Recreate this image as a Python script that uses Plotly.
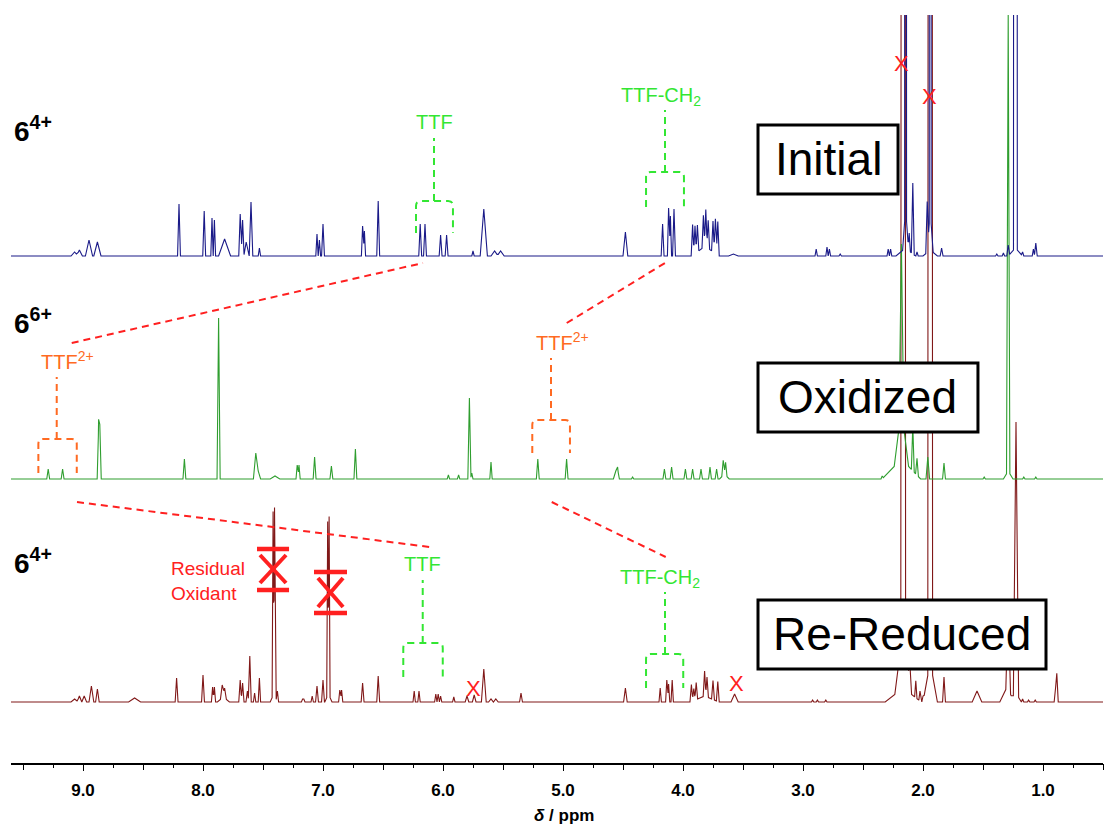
import plotly.graph_objects as go

# ---------------- data ----------------
ppm_range = [9.6, 0.5]
tick_ppm = [9.0, 8.0, 7.0, 6.0, 5.0, 4.0, 3.0, 2.0, 1.0]
tick_labels = ["9.0", "8.0", "7.0", "6.0", "5.0", "4.0", "3.0", "2.0", "1.0"]
half_tick_ppm = [9.5, 8.5, 7.5, 6.5, 5.5, 4.5, 3.5, 2.5, 1.5, 0.5]

# peaks: (ppm, height, half-width in ppm)
initial_peaks = [
    (9.07, 4, 0.03), (9.03, 6, 0.025), (8.95, 16, 0.03), (8.88, 14, 0.03),
    (8.20, 52, 0.012), (7.99, 45, 0.012), (7.925, 38, 0.010), (7.905, 36, 0.010),
    (7.82, 17, 0.05), (7.69, 42, 0.012), (7.67, 36, 0.012), (7.64, 14, 0.02),
    (7.60, 54, 0.015), (7.53, 8, 0.010),
    (7.05, 22, 0.010), (7.03, 16, 0.010), (7.00, 32, 0.012),
    (6.67, 30, 0.010), (6.655, 25, 0.010), (6.54, 55, 0.012),
    (6.19, 32, 0.012), (6.15, 32, 0.012), (6.02, 21, 0.012), (5.97, 21, 0.012),
    (5.75, 5, 0.010), (5.66, 47, 0.03), (5.57, 5, 0.03), (5.52, 5, 0.03),
    (4.48, 24, 0.02),
    (4.17, 32, 0.012), (4.12, 48, 0.010), (4.105, 40, 0.010), (4.075, 47, 0.012),
    (3.815, 10, 0.11),
    (3.92, 31, 0.012), (3.90, 28, 0.012), (3.88, 27, 0.012), (3.83, 32, 0.012), (3.81, 37, 0.012),
    (3.79, 28, 0.012), (3.75, 31, 0.012), (3.73, 35, 0.012), (3.71, 34, 0.012),
    (3.58, 2, 0.04),
    (2.89, 7, 0.010), (2.80, 9, 0.010), (2.78, 7, 0.010), (2.69, 2, 0.010), (2.29, 7, 0.010), (2.27, 7, 0.010),
    (2.145, 6000, 0.008), (2.145, 40, 0.025), (2.145, 8, 0.08),
    (2.115, 18, 0.010), (2.085, 71, 0.012), (2.05, 4, 0.010),
    (1.965, 51, 0.012), (1.94, 6000, 0.008), (1.94, 40, 0.025), (1.94, 6, 0.06),
    (1.845, 8, 0.012),
    (1.385, 2, 0.010), (1.33, 3, 0.010), (1.29, 11, 0.012), (1.23, 6000, 0.016), (1.23, 8, 0.06),
    (1.17, 4, 0.010), (1.08, 7, 0.010), (1.06, 13, 0.012),
]

oxidized_peaks = [
    (9.29, 10, 0.012), (9.17, 10, 0.012), (8.87, 52, 0.012), (8.86, 46, 0.012),
    (8.155, 20, 0.012), (7.87, 161, 0.013), (7.56, 26, 0.02), (7.54, 8, 0.02), (7.40, 3, 0.04),
    (7.215, 14, 0.010), (7.20, 14, 0.010), (7.07, 22, 0.012), (6.93, 13, 0.012), (6.73, 30, 0.012),
    (5.955, 4, 0.010), (5.87, 4, 0.010), (5.78, 81, 0.013), (5.76, 6, 0.010), (5.60, 17, 0.010),
    (5.21, 20, 0.012), (4.97, 20, 0.012),
    (4.56, 8, 0.02), (4.545, 10, 0.015), (4.42, 2, 0.010),
    (4.155, 10, 0.012), (4.095, 12, 0.012),
    (3.98, 10, 0.012), (3.92, 10, 0.012), (3.85, 10, 0.012),
    (3.775, 12, 0.012), (3.72, 10, 0.012), (3.665, 15, 0.012), (3.645, 13, 0.012), (3.655, 5, 0.04),
    (2.34, 3, 0.010),
    (2.18, 165, 0.02), (2.18, 50, 0.06), (2.18, 20, 0.16),
    (2.085, 45, 0.012), (2.05, 17, 0.012), (1.96, 22, 0.015), (1.825, 16, 0.012),
    (1.49, 2, 0.010), (1.29, 456, 0.014), (1.29, 8, 0.04), (1.16, 2, 0.010), (1.06, 2, 0.010),
]

rereduced_peaks = [
    (9.07, 3, 0.03), (9.03, 6, 0.02), (8.99, 6, 0.02), (8.93, 16, 0.02), (8.88, 13, 0.015),
    (8.57, 4, 0.05),
    (8.22, 24, 0.012), (8.00, 27, 0.012), (7.92, 15, 0.010), (7.905, 15, 0.010),
    (7.84, 13, 0.015), (7.82, 10, 0.015), (7.83, 5, 0.05),
    (7.69, 22, 0.012), (7.67, 19, 0.012), (7.63, 11, 0.012), (7.61, 46, 0.012), (7.57, 9, 0.010), (7.53, 24, 0.010),
    (7.416, 184, 0.008), (7.404, 188, 0.008), (7.41, 8, 0.03),
    (7.38, 11, 0.010),
    (7.17, 3, 0.010), (7.16, 3, 0.010), (7.09, 6, 0.010), (7.05, 16, 0.012), (7.00, 22, 0.012),
    (6.961, 174, 0.008), (6.949, 179, 0.008), (6.955, 8, 0.03),
    (6.86, 12, 0.010), (6.845, 12, 0.010), (6.67, 19, 0.012), (6.54, 26, 0.012),
    (6.24, 11, 0.010), (6.20, 11, 0.010), (6.06, 8, 0.010), (6.04, 8, 0.010), (6.02, 6, 0.010), (5.91, 5, 0.010),
    (5.80, 6, 0.015), (5.74, 7, 0.015), (5.66, 33, 0.02), (5.60, 3, 0.02), (5.56, 3, 0.02), (5.35, 9, 0.012),
    (4.48, 14, 0.015), (4.19, 14, 0.010), (4.135, 22, 0.010), (4.12, 18, 0.010), (4.09, 22, 0.010),
    (3.82, 6, 0.12),
    (3.93, 17, 0.012), (3.91, 12, 0.012), (3.89, 17, 0.012), (3.82, 25, 0.012), (3.80, 20, 0.012),
    (3.75, 19, 0.012), (3.71, 20, 0.012),
    (3.57, 8, 0.03),
    (2.92, 2, 0.010), (2.88, 2, 0.010), (2.81, 2, 0.010),
    (2.165, 6000, 0.02), (2.165, 60, 0.07), (2.165, 14, 0.15),
    (2.11, 18, 0.010), (2.06, 17, 0.010), (2.025, 10, 0.010), (2.0, 6, 0.010),
    (1.94, 6000, 0.02), (1.94, 40, 0.06),
    (1.825, 25, 0.012), (1.55, 11, 0.04),
    (1.29, 80, 0.02), (1.30, 15, 0.06), (1.225, 270, 0.022), (1.225, 10, 0.04),
    (1.17, 3, 0.010), (1.12, 2, 0.010), (1.065, 2, 0.010), (0.885, 27, 0.012), (0.895, 10, 0.012),
]

spectra_names = ["Re-Reduced", "Oxidized", "Initial"]
spectra_peaks = [rereduced_peaks, oxidized_peaks, initial_peaks]

# ---------------- styling / layout ----------------
BASE = {"Initial": 507, "Oxidized": 284, "Re-Reduced": 61}
COLORS = {"Initial": "#1a1a88", "Oxidized": "#2f9e2f", "Re-Reduced": "#801818"}
GREEN = "#33e633"
ORANGE = "#ff6a22"
RED = "#ff2020"
FONT = "Arial, Liberation Sans, sans-serif"


def build(peaks, lo=0.5, hi=9.6):
    xs = {lo, hi}
    for c, h, w in peaks:
        xs.update((c - w, c, c + w))
    xs = sorted((x for x in xs if lo <= x <= hi), reverse=True)
    ys = [sum(max(0.0, h * (1 - abs(x - c) / w)) for c, h, w in peaks) for x in xs]
    return xs, ys


fig = go.Figure()
for name, peaks in zip(spectra_names, spectra_peaks):
    xs, ys = build(peaks)
    fig.add_trace(go.Scatter(x=xs, y=[y + BASE[name] for y in ys], mode="lines", name=name,
                             line=dict(color=COLORS[name], width=1.1), hoverinfo="skip",
                             showlegend=False))
# carrier for the half-ppm tick axis
fig.add_trace(go.Scatter(x=ppm_range, y=[None, None], xaxis="x2", mode="lines",
                         showlegend=False, hoverinfo="skip"))

shapes = []
DASH = "7px,5px"


def bracket(x1, x2, xs, ytop, ybot, ystem, color):
    rx, ry = 0.04, 5
    path = (f"M {x1},{ybot} L {x1},{ytop - ry} Q {x1},{ytop} {x1 - rx},{ytop} "
            f"L {x2 + rx},{ytop} Q {x2},{ytop} {x2},{ytop - ry} L {x2},{ybot}")
    shapes.append(dict(type="path", path=path, xref="x", yref="y", layer="above",
                       line=dict(color=color, width=2, dash=DASH)))
    shapes.append(dict(type="line", x0=xs, x1=xs, y0=ytop, y1=ystem, xref="x", yref="y", layer="above",
                       line=dict(color=color, width=2, dash=DASH)))


bracket(6.225, 5.917, 6.075, 562, 530, 625, GREEN)
bracket(4.308, 3.992, 4.15, 591, 556, 653, GREEN)
bracket(9.372, 9.052, 9.219, 324, 290, 386, ORANGE)
bracket(5.256, 4.942, 5.10, 343, 310, 405, ORANGE)
bracket(6.331, 6.002, 6.169, 120, 86, 183, GREEN)
bracket(4.308, 3.998, 4.15, 109, 75, 171, GREEN)

for (xa, ya, xb, yb) in [(9.094, 420, 6.167, 500), (4.969, 440, 4.15, 500),
                         (9.05, 261, 6.114, 216), (5.094, 261, 4.144, 206)]:
    shapes.append(dict(type="line", x0=xa, y0=ya, x1=xb, y1=yb, xref="x", yref="y", layer="above",
                       line=dict(color=RED, width=2, dash=DASH)))

# residual oxidant crossed markers
for (bx0, bx1, xa, xb, yt, yb, xt, xbm) in [(7.55, 7.283, 7.525, 7.308, 214, 173, 208, 180),
                                            (7.075, 6.80, 7.042, 6.833, 191, 150, 185, 156)]:
    for yy in (yt, yb):
        shapes.append(dict(type="line", x0=bx0, x1=bx1, y0=yy, y1=yy, xref="x", yref="y", layer="above",
                           line=dict(color=RED, width=4.5)))
    shapes.append(dict(type="line", x0=xa, x1=xb, y0=xt, y1=xbm, xref="x", yref="y", layer="above",
                       line=dict(color=RED, width=4)))
    shapes.append(dict(type="line", x0=xb, x1=xa, y0=xt, y1=xbm, xref="x", yref="y", layer="above",
                       line=dict(color=RED, width=4)))

# label boxes
boxes = {"Initial": (3.375, 2.208, 638, 569), "Oxidized": (3.375, 1.542, 400, 331),
         "Re-Reduced": (3.375, 0.975, 163, 94)}
for name, (x0, x1, y0, y1) in boxes.items():
    shapes.append(dict(type="rect", x0=x0, x1=x1, y0=y0, y1=y1, xref="x", yref="y", layer="above",
                       fillcolor="white", line=dict(color="black", width=3)))

ann = []
for name, (x0, x1, y0, y1) in boxes.items():
    ann.append(dict(x=(x0 + x1) / 2, y=(y0 + y1) / 2 + 1, text=name,
                    font=dict(family=FONT, size=46, color="black")))

for txt, yy in [("6<sup>4+</sup>", 634), ("6<sup>6+</sup>", 442), ("6<sup>4+</sup>", 202)]:
    ann.append(dict(x=9.592, y=yy, text=f"<b>{txt}</b>", xanchor="left",
                    font=dict(family=FONT, size=28, color="black")))

ann += [
    dict(x=6.075, y=641, text="TTF", font=dict(family=FONT, size=20, color=GREEN)),
    dict(x=4.183, y=667, text="TTF-CH<sub>2</sub>", font=dict(family=FONT, size=20, color=GREEN)),
    dict(x=6.167, y=199, text="TTF", font=dict(family=FONT, size=20, color=GREEN)),
    dict(x=4.192, y=185, text="TTF-CH<sub>2</sub>", font=dict(family=FONT, size=20, color=GREEN)),
    dict(x=9.367, y=403, text="TTF<sup>2+</sup>", xanchor="left", font=dict(family=FONT, size=20, color=ORANGE)),
    dict(x=5.242, y=422, text="TTF<sup>2+</sup>", xanchor="left", font=dict(family=FONT, size=20, color=ORANGE)),
    dict(x=8.283, y=182, text="Residual<br>Oxidant", xanchor="left", align="left",
         font=dict(family=FONT, size=19, color=RED)),
]
for xx, yy in [(2.183, 700), (1.942, 667), (5.75, 75), (3.558, 80)]:
    ann.append(dict(x=xx, y=yy, text="X", font=dict(family=FONT, size=22, color=RED)))

for a in ann:
    a.setdefault("showarrow", False)
    a.setdefault("xref", "x")
    a.setdefault("yref", "y")
    a.setdefault("xanchor", "center")
    a.setdefault("yanchor", "middle")

ann.append(dict(x=4.99, y=-0.07, xref="x", yref="paper", showarrow=False,
                text="<b><i>δ</i> / ppm</b>", font=dict(family=FONT, size=17, color="black"),
                xanchor="center", yanchor="middle"))

fig.update_layout(
    width=1105, height=824,
    margin=dict(l=11, r=2, t=15, b=61, pad=0, autoexpand=False),
    paper_bgcolor="white", plot_bgcolor="white",
    shapes=shapes, annotations=ann,
    xaxis=dict(range=ppm_range, showgrid=False, zeroline=False, showline=True, linecolor="black",
               linewidth=1.5, ticks="outside", ticklen=6, tickwidth=1, tickcolor="black",
               tickvals=tick_ppm, ticktext=tick_labels, ticklabelstandoff=5,
               tickfont=dict(family=FONT, size=17, color="black", weight="bold"),
               minor=dict(dtick=0.25, tick0=0, ticks="outside", ticklen=3, tickcolor="black", tickwidth=1)),
    xaxis2=dict(range=ppm_range, overlaying="x", anchor="y", side="bottom", showgrid=False,
                zeroline=False, showline=False, ticks="outside", ticklen=6, tickwidth=1,
                tickcolor="black", tickvals=half_tick_ppm, showticklabels=False),
    yaxis=dict(range=[0, 748], visible=False, showgrid=False, zeroline=False),
)

fig.write_html("out.html")
